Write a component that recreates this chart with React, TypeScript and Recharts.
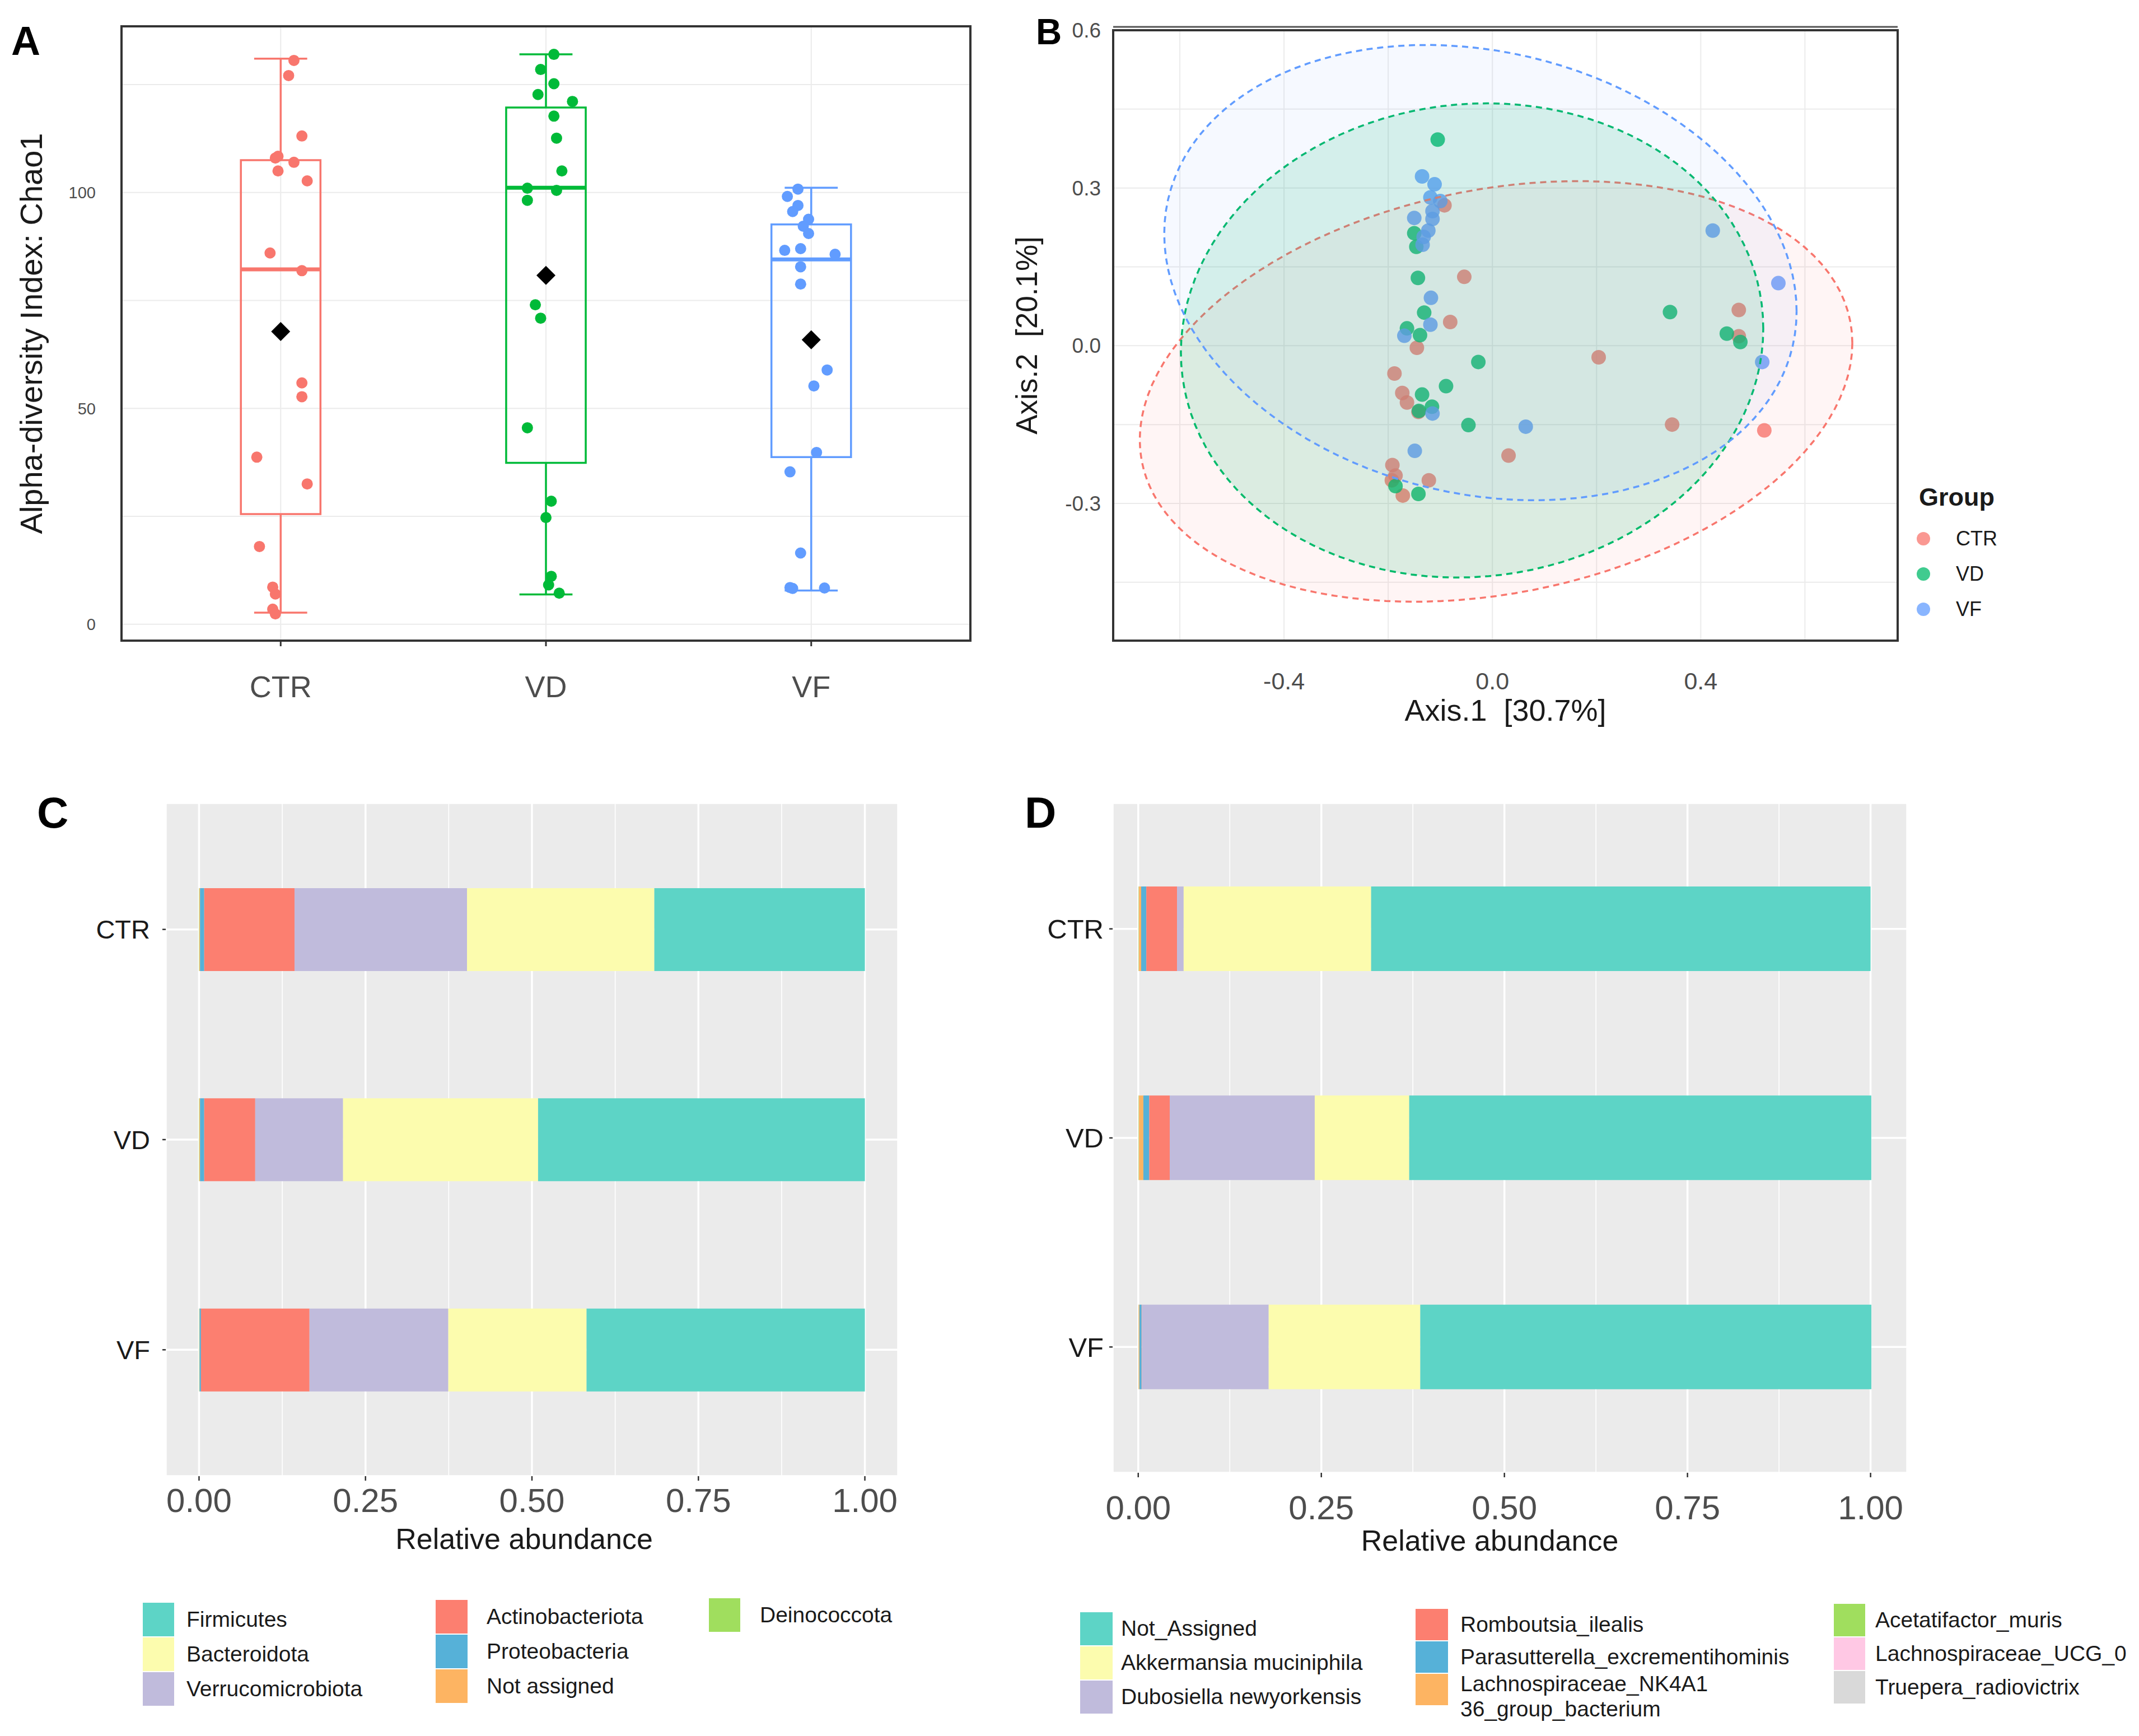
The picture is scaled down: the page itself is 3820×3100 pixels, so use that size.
import React from "react";
import {
  Bar,
  BarChart,
  CartesianGrid,
  ReferenceArea,
  ReferenceLine,
  Scatter,
  ScatterChart,
  XAxis,
  YAxis,
} from "recharts";

const FONT = '"Liberation Sans", Arial, Helvetica, sans-serif';
const GROUPS = ["CTR", "VD", "VF"];
const HUE = ["#F8766D", "#00BA38", "#619CFF"];
const HUE_B = ["#F8766D", "#00BA6A", "#619CFF"];

// A: Chao1 per sample and its horizontal jitter (category units)
const ctrChao1 = [130.6, 127.1, 113.1, 108, 108.4, 107, 105, 102.7, 86, 81.9, 55.9, 52.7, 38.7, 32.5, 18, 8.6, 7, 3.5, 2.4];
const ctrJitter = [0.05, 0.03, 0.08, -0.02, -0.01, 0.05, -0.01, 0.1, -0.04, 0.08, 0.08, 0.08, -0.09, 0.1, -0.08, -0.03, -0.02, -0.03, -0.02];
const vdChao1 = [132, 128.5, 125.2, 122.7, 121.1, 117.7, 112.6, 105, 101, 100.5, 98.2, 74, 70.9, 45.5, 28.5, 24.7, 11.1, 9.1, 7.2];
const vdJitter = [0.03, -0.02, 0.03, -0.03, 0.1, 0.03, 0.04, 0.06, -0.07, 0.04, -0.07, -0.04, -0.02, -0.07, 0.02, 0, 0.02, 0.01, 0.05];
const vfChao1 = [100.8, 99.1, 97, 95.6, 93.8, 92.2, 90.5, 86.6, 87, 85.7, 82.8, 78.8, 58.9, 55.2, 39.8, 35.3, 16.5, 8.5, 8.3, 8.4];
const vfJitter = [-0.05, -0.09, -0.05, -0.07, -0.01, -0.03, -0.01, -0.1, -0.04, 0.09, -0.04, -0.04, 0.06, 0.01, 0.02, -0.08, -0.04, -0.08, -0.07, 0.05];

const boxMin = [2.7, 6.9, 7.8];
const boxQ1 = [25.5, 37.4, 38.7];
const boxMedian = [82.2, 101.1, 84.5];
const boxQ3 = [107.5, 119.7, 92.6];
const boxMax = [131, 132, 101.1];
const groupMean = [67.8, 80.8, 65.9];

// B: PCoA coordinates [Axis.1, Axis.2]
const ctrPcoa = [[-0.092, 0.267], [-0.054, 0.131], [-0.081, 0.045], [-0.145, -0.004], [-0.188, -0.053], [-0.173, -0.09], [-0.164, -0.108], [-0.142, -0.126], [-0.192, -0.227], [-0.186, -0.247], [-0.193, -0.256], [-0.172, -0.285], [-0.122, -0.256], [0.031, -0.209], [0.204, -0.022], [0.345, -0.15], [0.473, 0.068], [0.473, 0.018], [0.522, -0.161]];
const vdPcoa = [[-0.105, 0.392], [-0.15, 0.214], [-0.146, 0.188], [-0.143, 0.129], [-0.131, 0.063], [-0.164, 0.033], [-0.139, 0.02], [-0.027, -0.031], [-0.089, -0.077], [-0.135, -0.093], [-0.116, -0.116], [-0.141, -0.124], [-0.046, -0.151], [-0.186, -0.267], [-0.142, -0.282], [0.341, 0.064], [0.45, 0.023], [0.476, 0.007]];
const vfPcoa = [[-0.135, 0.322], [-0.111, 0.307], [-0.119, 0.282], [-0.1, 0.275], [-0.115, 0.256], [-0.15, 0.243], [-0.115, 0.241], [-0.123, 0.219], [-0.132, 0.207], [-0.134, 0.192], [-0.118, 0.091], [-0.119, 0.04], [-0.169, 0.019], [-0.115, -0.129], [-0.149, -0.2], [0.064, -0.154], [0.423, 0.219], [0.549, 0.119], [0.518, -0.031]];

// confidence ellipses: centre, half extents along the axes, tilt (sin of phase)
const ellipseCenter = [[0.007, -0.087], [-0.039, 0.01], [-0.023, 0.139]];
const ellipseRadius = [[0.684, 0.4], [0.559, 0.451], [0.607, 0.433]];
const ellipseTilt = [0.23, 0.05, -0.17];
const ellipseFillOpacity = [0.07, 0.14, 0.06];

// C: phylum relative abundance per group
const phyla = ["Firmicutes", "Bacteroidota", "Verrucomicrobiota", "Actinobacteriota", "Proteobacteria", "Not assigned", "Deinococcota"];
const firmicutes = [0.3162, 0.4908, 0.418];
const bacteroidota = [0.2813, 0.2929, 0.2076];
const verrucomicrobiota = [0.259, 0.1319, 0.2085];
const actinobacteriota = [0.1357, 0.0766, 0.163];
const proteobacteria = [0.0063, 0.0063, 0.0021];
const notAssignedPhylum = [0.001, 0.001, 0.0005];
const deinococcota = [0.0005, 0.0005, 0.0003];

// D: species relative abundance per group
const species = ["Not_Assigned", "Akkermansia muciniphila", "Dubosiella newyorkensis", "Romboutsia_ilealis", "Parasutterella_excrementihominis", "Lachnospiraceae_NK4A136_group_bacterium", "Acetatifactor_muris", "Lachnospiraceae_UCG_0", "Truepera_radiovictrix"];
const notAssignedSpecies = [0.682, 0.631, 0.616];
const akkermansia = [0.256, 0.129, 0.207];
const dubosiella = [0.009, 0.198, 0.173];
const romboutsia = [0.042, 0.028, 0.0005];
const parasutterella = [0.007, 0.008, 0.003];
const lachnoNK4A136 = [0.003, 0.006, 0.001];
const acetatifactor = [0.0005, 0.0005, 0.0003];
const lachnoUCG = [0.0003, 0.0003, 0.0002];
const truepera = [0.0002, 0.0002, 0.0001];

const SET = ["#5DD4C6", "#FCFCAE", "#C0BBDC", "#FC7F70", "#56B1D8", "#FDB462", "#A0DE5E", "#FFC8E4", "#D9D9D9"];

const toRows = (names: string[], values: number[][]) =>
  GROUPS.map((g, i) => {
    const row: Record<string, any> = { group: g };
    names.forEach((n, k) => (row[n] = values[k][i]));
    return row;
  });

const phylumRows = toRows(phyla, [firmicutes, bacteroidota, verrucomicrobiota, actinobacteriota, proteobacteria, notAssignedPhylum, deinococcota]);
const speciesRows = toRows(species, [notAssignedSpecies, akkermansia, dubosiella, romboutsia, parasutterella, lachnoNK4A136, acetatifactor, lachnoUCG, truepera]);

function ellipseOutline(g: number) {
  const [cx, cy] = ellipseCenter[g];
  const [rx, ry] = ellipseRadius[g];
  const phi = Math.asin(ellipseTilt[g]);
  return Array.from({ length: 121 }, (_, k) => {
    const t = (k / 120) * 2 * Math.PI;
    return { x: cx + rx * Math.cos(t), y: cy + ry * Math.sin(t + phi) };
  });
}

const hidden = () => <g />;

function PanelA() {
  const chao1 = [ctrChao1, vdChao1, vfChao1];
  const jitter = [ctrJitter, vdJitter, vfJitter];
  const box = 0.15;
  const cap = 0.1;
  return (
    <ScatterChart width={1760} height={1300} margin={{ top: 47, right: 27, bottom: 0, left: 0 }}>
      <CartesianGrid stroke="#EBEBEB" strokeWidth={2} />
      <XAxis
        type="number"
        dataKey="x"
        domain={[0.4, 3.6]}
        allowDataOverflow
        ticks={[1, 2, 3]}
        interval={0}
        tickFormatter={(v) => GROUPS[v - 1]}
        height={156}
        axisLine={false}
        tickLine={{ stroke: "#333", strokeWidth: 3 }}
        tickSize={10}
        tickMargin={53}
        tick={{ fontSize: 54, fill: "#4D4D4D", fontFamily: FONT }}
      />
      <YAxis
        type="number"
        dataKey="y"
        domain={[-3.8, 138.5]}
        allowDataOverflow
        ticks={[0, 25, 50, 75, 100, 125]}
        interval={0}
        tickFormatter={(v) => (v % 50 === 0 ? String(v) : "")}
        width={217}
        axisLine={false}
        tickLine={false}
        tickMargin={40}
        tick={{ fontSize: 29, fill: "#4D4D4D", fontFamily: FONT }}
        label={{
          value: "Alpha-diversity Index: Chao1",
          angle: -90,
          position: "insideLeft",
          offset: 55,
          style: { textAnchor: "middle", fontSize: 56, fill: "#1A1A1A", fontFamily: FONT },
        }}
      />
      {GROUPS.map((g, i) => (
        <ReferenceArea key={`box-${g}`} x1={i + 1 - box} x2={i + 1 + box} y1={boxQ1[i]} y2={boxQ3[i]} fill="#fff" fillOpacity={0} stroke={HUE[i]} strokeWidth={3.5} />
      ))}
      {GROUPS.map((g, i) => [
        <ReferenceLine key={`wu-${g}`} segment={[{ x: i + 1, y: boxQ3[i] }, { x: i + 1, y: boxMax[i] }]} stroke={HUE[i]} strokeWidth={3.5} />,
        <ReferenceLine key={`wl-${g}`} segment={[{ x: i + 1, y: boxMin[i] }, { x: i + 1, y: boxQ1[i] }]} stroke={HUE[i]} strokeWidth={3.5} />,
        <ReferenceLine key={`cu-${g}`} segment={[{ x: i + 1 - cap, y: boxMax[i] }, { x: i + 1 + cap, y: boxMax[i] }]} stroke={HUE[i]} strokeWidth={3.5} />,
        <ReferenceLine key={`cl-${g}`} segment={[{ x: i + 1 - cap, y: boxMin[i] }, { x: i + 1 + cap, y: boxMin[i] }]} stroke={HUE[i]} strokeWidth={3.5} />,
        <ReferenceLine key={`md-${g}`} segment={[{ x: i + 1 - box, y: boxMedian[i] }, { x: i + 1 + box, y: boxMedian[i] }]} stroke={HUE[i]} strokeWidth={7} />,
      ])}
      {GROUPS.map((g, i) => (
        <Scatter
          key={`pts-${g}`}
          data={chao1[i].map((v, k) => ({ x: i + 1 + jitter[i][k], y: v }))}
          isAnimationActive={false}
          shape={(p: any) => <circle cx={p.cx} cy={p.cy} r={10} fill={HUE[i]} />}
        />
      ))}
      <Scatter
        data={groupMean.map((m, i) => ({ x: i + 1, y: m }))}
        isAnimationActive={false}
        shape={(p: any) => (
          <polygon points={`${p.cx},${p.cy - 17} ${p.cx + 17},${p.cy} ${p.cx},${p.cy + 17} ${p.cx - 17},${p.cy}`} fill="#000" />
        )}
      />
      <ReferenceArea x1={0.4} x2={3.6} y1={-3.8} y2={138.5} fill="#fff" fillOpacity={0} stroke="#333" strokeWidth={4} ifOverflow="visible" />
    </ScatterChart>
  );
}

function PanelB() {
  const pcoa = [ctrPcoa, vdPcoa, vfPcoa];
  return (
    <ScatterChart width={2040} height={1300} margin={{ top: 54, right: 431, bottom: 0, left: 8 }}>
      <CartesianGrid stroke="#EBEBEB" strokeWidth={2} />
      <XAxis
        type="number"
        dataKey="x"
        domain={[-0.728, 0.778]}
        allowDataOverflow
        ticks={[-0.6, -0.4, -0.2, 0, 0.2, 0.4, 0.6]}
        interval={0}
        tickFormatter={(v) => (Math.abs(Math.round(v * 10)) % 4 === 0 ? v.toFixed(1) : "")}
        height={156}
        axisLine={false}
        tickLine={false}
        tickMargin={50}
        tick={{ fontSize: 43, fill: "#4D4D4D", fontFamily: FONT }}
        label={{
          value: "Axis.1 \u00A0[30.7%]",
          position: "insideBottom",
          offset: 13,
          style: { fontSize: 54, fill: "#1A1A1A", fontFamily: FONT },
        }}
      />
      <YAxis
        type="number"
        dataKey="y"
        domain={[-0.561, 0.6]}
        allowDataOverflow
        ticks={[-0.45, -0.3, -0.15, 0, 0.15, 0.3, 0.45, 0.6]}
        interval={0}
        tickFormatter={(v) => (Math.abs(Math.round(v * 100)) % 30 === 0 ? v.toFixed(1) : "")}
        width={200}
        axisLine={false}
        tickLine={false}
        tickMargin={16}
        tick={{ fontSize: 37, fill: "#4D4D4D", fontFamily: FONT }}
        label={{
          value: "Axis.2 \u00A0[20.1%]",
          angle: -90,
          position: "insideLeft",
          offset: 45,
          style: { textAnchor: "middle", fontSize: 53, fill: "#1A1A1A", fontFamily: FONT },
        }}
      />
      {GROUPS.map((g, i) => (
        <Scatter
          key={`pc-${g}`}
          data={pcoa[i].map(([x, y]) => ({ x, y }))}
          isAnimationActive={false}
          shape={(p: any) => <circle cx={p.cx} cy={p.cy} r={13} fill={HUE_B[i]} fillOpacity={0.8} />}
        />
      ))}
      {GROUPS.map((g, i) => (
        <Scatter
          key={`ell-${g}`}
          data={ellipseOutline(i)}
          isAnimationActive={false}
          shape={hidden}
          line={{ stroke: HUE_B[i], strokeWidth: 3.5, strokeDasharray: "11 8", fill: HUE_B[i], fillOpacity: ellipseFillOpacity[i] }}
        />
      ))}
      <ReferenceLine y={0.6065} ifOverflow="visible" stroke="#555" strokeWidth={3} />
      <ReferenceArea x1={-0.728} x2={0.778} y1={-0.561} y2={0.6} fill="#fff" fillOpacity={0} stroke="#333" strokeWidth={4} ifOverflow="visible" />
    </ScatterChart>
  );
}

function StackPanel({ rows, names, colors, width, domain, margin, barSize, xAxisHeight, yTickMargin, xTickMargin, yFont, titleOffset, titleDx }: any) {
  const minor = [0.125, 0.375, 0.625, 0.875];
  const order = names.map((_: string, k: number) => k).reverse();
  return (
    <BarChart layout="vertical" width={width} height={1400} data={rows} margin={margin} barSize={barSize}>
      <CartesianGrid fill="#EBEBEB" stroke="#FFFFFF" strokeWidth={3.5} />
      <CartesianGrid horizontal={false} verticalValues={minor} stroke="#FFFFFF" strokeWidth={1.6} />
      <XAxis
        type="number"
        domain={domain}
        allowDataOverflow
        ticks={[0, 0.25, 0.5, 0.75, 1]}
        interval={0}
        tickFormatter={(v) => v.toFixed(2)}
        height={xAxisHeight}
        axisLine={false}
        tickLine={{ stroke: "#333", strokeWidth: 2.5 }}
        tickSize={8}
        tickMargin={xTickMargin}
        tick={{ fontSize: 60, fill: "#4D4D4D", fontFamily: FONT }}
        label={{
          value: "Relative abundance",
          position: "insideBottom",
          offset: titleOffset,
          dx: titleDx,
          style: { fontSize: 52, fill: "#1A1A1A", fontFamily: FONT },
        }}
      />
      <YAxis
        type="category"
        dataKey="group"
        width={200}
        padding={{ top: 38, bottom: 38 }}
        axisLine={false}
        tickLine={{ stroke: "#333", strokeWidth: 2.5 }}
        tickSize={6}
        tickMargin={yTickMargin}
        interval={0}
        tick={{ fontSize: yFont, fill: "#1A1A1A", fontFamily: FONT }}
      />
      {order.map((k: number) => (
        <Bar key={names[k]} dataKey={names[k]} stackId="s" fill={colors[k]} isAnimationActive={false} />
      ))}
    </BarChart>
  );
}

function KeyColumn({ x, y, size, pitch, labelX, entries }: any) {
  return (
    <>
      {entries.map((e: any, k: number) => {
        const twoLines = e.label.includes("\n");
        return (
          <React.Fragment key={e.label}>
            <div style={{ position: "absolute", left: x, top: y + k * pitch, width: size, height: pitch - 2, background: e.color }} />
            <div
              style={{
                position: "absolute",
                left: labelX,
                top: y + k * pitch + (twoLines ? -4 : 0),
                height: pitch - 2,
                display: "flex",
                alignItems: twoLines ? "flex-start" : "center",
                fontSize: 39,
                lineHeight: 1.15,
                whiteSpace: "pre",
                fontFamily: FONT,
                color: "#1A1A1A",
              }}
            >
              {e.label}
            </div>
          </React.Fragment>
        );
      })}
    </>
  );
}

const wrapLabel = (s: string) => (s.length > 32 ? `${s.slice(0, 21)}\n${s.slice(21)}` : s);
const entries = (names: string[], idx: number[]) => idx.map((k) => ({ label: wrapLabel(names[k]), color: SET[k] }));

function Letter({ x, y, size, children }: any) {
  return (
    <div style={{ position: "absolute", left: x, top: y, fontSize: size, fontWeight: "bold", lineHeight: 1, fontFamily: FONT, color: "#000" }}>
      {children}
    </div>
  );
}

export default function App() {
  return (
    <div style={{ position: "absolute", left: 0, top: 0, width: 3820, height: 3100, background: "#fff", overflow: "hidden" }}>
      <div style={{ position: "absolute", left: 0, top: 0 }}>
        <PanelA />
      </div>
      <div style={{ position: "absolute", left: 1780, top: 0 }}>
        <PanelB />
      </div>
      <div style={{ position: "absolute", left: 0, top: 1380 }}>
        <StackPanel
          rows={phylumRows}
          names={phyla}
          colors={SET}
          width={1780}
          domain={[-0.05, 1.05]}
          margin={{ top: 54, right: 176, bottom: 0, left: 96 }}
          barSize={148}
          xAxisHeight={144}
          yTickMargin={22}
          xTickMargin={13}
          yFont={47}
          titleOffset={14}
          titleDx={-14}
        />
      </div>
      <div style={{ position: "absolute", left: 1780, top: 1380 }}>
        <StackPanel
          rows={speciesRows}
          names={species}
          colors={SET}
          width={2040}
          domain={[-0.035, 1.05]}
          margin={{ top: 54, right: 414, bottom: 0, left: 7 }}
          barSize={151}
          xAxisHeight={150}
          yTickMargin={10}
          xTickMargin={32}
          yFont={49}
          titleOffset={11}
          titleDx={-36}
        />
      </div>

      <Letter x={20} y={37} size={72}>A</Letter>
      <Letter x={1850} y={25} size={64}>B</Letter>
      <Letter x={66} y={1412} size={78}>C</Letter>
      <Letter x={1830} y={1412} size={78}>D</Letter>

      {/* legend of B */}
      <div style={{ position: "absolute", left: 3427, top: 865, fontSize: 45, fontWeight: "bold", lineHeight: 1, fontFamily: FONT, color: "#1A1A1A" }}>
        Group
      </div>
      {GROUPS.map((g, i) => (
        <React.Fragment key={`lg-${g}`}>
          <div style={{ position: "absolute", left: 3423, top: 950 + i * 63, width: 24, height: 24, borderRadius: 12, background: HUE_B[i], opacity: 0.75 }} />
          <div style={{ position: "absolute", left: 3493, top: 944 + i * 63, height: 36, display: "flex", alignItems: "center", fontSize: 36, lineHeight: 1, fontFamily: FONT, color: "#1A1A1A" }}>
            {g}
          </div>
        </React.Fragment>
      ))}

      {/* legend of C */}
      <KeyColumn x={255} y={2862} size={56} pitch={62} labelX={333} entries={entries(phyla, [0, 1, 2])} />
      <KeyColumn x={778} y={2857} size={57} pitch={62} labelX={869} entries={entries(phyla, [3, 4, 5])} />
      <KeyColumn x={1266} y={2854} size={56} pitch={62} labelX={1357} entries={entries(phyla, [6])} />

      {/* legend of D */}
      <KeyColumn x={1929} y={2879} size={58} pitch={61} labelX={2002} entries={entries(species, [0, 1, 2])} />
      <KeyColumn x={2528} y={2873} size={58} pitch={58} labelX={2608} entries={entries(species, [3, 4, 5])} />
      <KeyColumn x={3275} y={2864} size={56} pitch={60} labelX={3349} entries={entries(species, [6, 7, 8])} />
    </div>
  );
}
